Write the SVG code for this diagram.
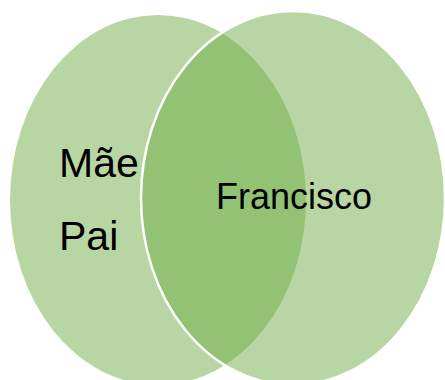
<svg xmlns="http://www.w3.org/2000/svg" width="445" height="380" viewBox="0 0 445 380">
<style>
.c{fill:#70AD47;fill-opacity:0.5}
.t{font-family:"Liberation Sans",Arial,sans-serif;fill:#000}
</style>
<rect width="445" height="380" fill="#fff"/>
<g id="left">
<ellipse class="c" cx="158" cy="200" rx="148" ry="185"/>
</g>
<g id="right">
<ellipse class="c" cx="293" cy="198" rx="152" ry="187" stroke="#fff" stroke-width="2.5"/>
</g>
<g id="labels">
<text class="t" x="59" y="177" font-size="41">Mãe</text>
<text class="t" x="59" y="250" font-size="41">Pai</text>
<text class="t" x="216" y="209" font-size="36">Francisco</text>
</g>
</svg>
